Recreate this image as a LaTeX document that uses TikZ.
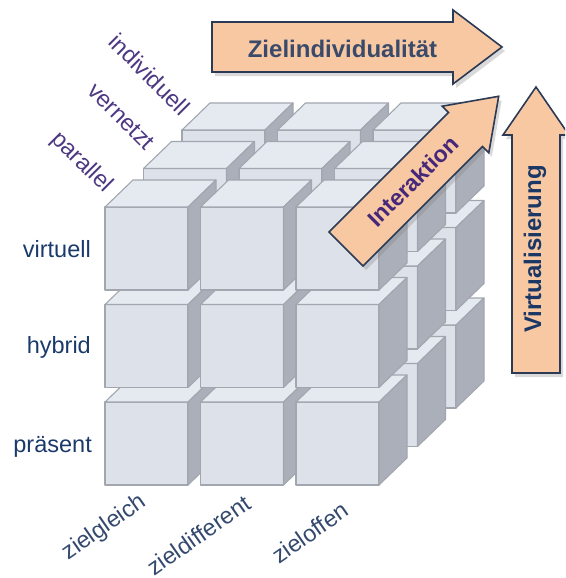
\documentclass[tikz,border=0pt]{standalone}
\usepackage{fontspec}
\setmainfont{Liberation Sans}
\usetikzlibrary{shadows}
\definecolor{cubefront}{HTML}{DCE1EA}
\definecolor{cubetop}{HTML}{E5E9F0}
\definecolor{cubeside}{HTML}{ABAFB9}
\definecolor{cubeline}{HTML}{A2A6AF}
\definecolor{arrowfill}{HTML}{F8C8A2}
\definecolor{arrowline}{HTML}{2B3A55}
\definecolor{zieltext}{HTML}{3A4A6A}
\definecolor{intertext}{HTML}{46287A}
\definecolor{virttext}{HTML}{1B3766}
\definecolor{rowtext}{HTML}{1B3A6B}
\definecolor{coltext}{HTML}{34496E}
\definecolor{depthtext}{HTML}{4D3882}
\begin{document}
\begin{tikzpicture}[x=1pt,y=-1pt,
  cubeedge/.style={draw=cubeline, line width=1.1pt, line join=round},
  arrowshape/.style={fill=arrowfill, draw=arrowline, line width=1.6pt, line join=miter,
    drop shadow={opacity=0.3, shadow xshift=3pt, shadow yshift=-4pt}},
  lbl/.style={font=\fontsize{23.5}{27}\selectfont, inner sep=0pt},
  arrowtext/.style={font=\bfseries\fontsize{24}{28}\selectfont, inner sep=0pt}]
\useasboundingbox (0,0) rectangle (565,578);
\clip (0,0) rectangle (565,578);
% cubes
\foreach \k in {2,1,0}{
 \foreach \j in {0,1,2}{
  \foreach \i in {0,1,2}{
   \begin{scope}[shift={({105+95.5*\i+38.5*\k},{485-97.5*\j-38.5*\k})}]
     \filldraw[cubeedge, fill=cubefront] (0,0) rectangle (83,-83);
     \filldraw[cubeedge, fill=cubetop] (0,-83) -- (83,-83) -- (111,-110) -- (28,-110) -- cycle;
     \filldraw[cubeedge, fill=cubeside] (83,0) -- (111,-27) -- (111,-110) -- (83,-83) -- cycle;
   \end{scope}
  }}}
% arrows
\draw[arrowshape] (212,22) -- (453,22) -- (453,10) -- (502,47) -- (453,84) -- (453,72) -- (212,72) -- cycle;
\draw[arrowshape] (363.0,266.0) -- (482.5,146.5) -- (488.8,152.8) -- (498.7,96.3) -- (442.2,106.2) -- (448.5,112.5) -- (329.0,232.0) -- cycle;
\draw[arrowshape] (512,373) -- (512,135) -- (503,135) -- (536,87) -- (569,135) -- (560,135) -- (560,373) -- cycle;
\node[arrowtext, text=zieltext, anchor=base] (ziel) at (342.5,57) {Zielindividualität};
\node[arrowtext, text=intertext, rotate=45, font=\bfseries\fontsize{23}{27}\selectfont] (inter) at (413,181) {Interaktion};
\node[arrowtext, text=virttext, rotate=90] (virt) at (535,249) {Virtualisierung};
% row labels
\node[lbl, text=rowtext, anchor=base east] (virtuell) at (91,257) {virtuell};
\node[lbl, text=rowtext, anchor=base east] (hybrid) at (91,353) {hybrid};
\node[lbl, text=rowtext, anchor=base east] (praesent) at (92,452) {präsent};
% column labels
\node[lbl, text=coltext, rotate=35] (zg) at (104.5,528) {zielgleich};
\node[lbl, text=coltext, rotate=35] (zd) at (198.5,535) {zieldifferent};
\node[lbl, text=coltext, rotate=35] (zo) at (310,532.5) {zieloffen};
% depth labels
\node[lbl, text=depthtext, rotate=-45] (par) at (81.5,162.5) {parallel};
\node[lbl, text=depthtext, rotate=-45] (ver) at (121,116.5) {vernetzt};
\node[lbl, text=depthtext, rotate=-45] (ind) at (149.5,74.5) {individuell};
\end{tikzpicture}
\end{document}
